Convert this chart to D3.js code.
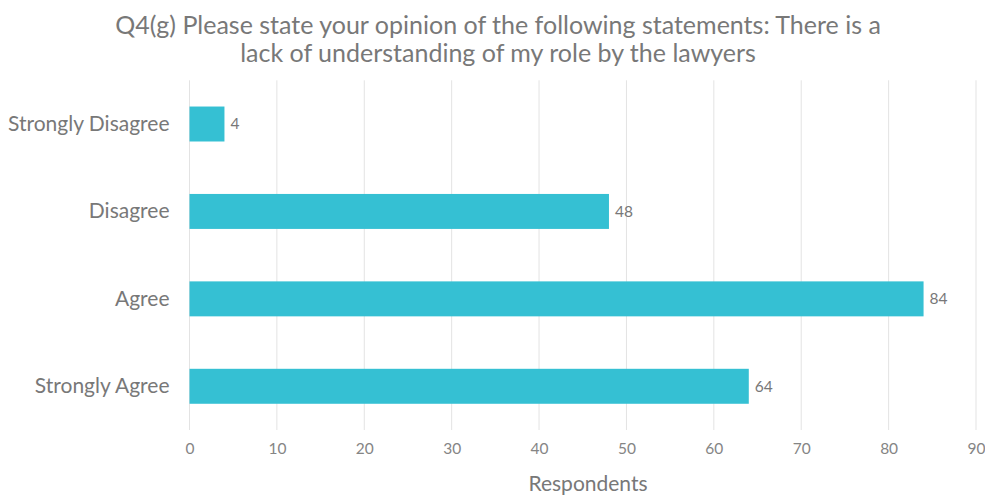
<!DOCTYPE html>
<html>
<head>
<meta charset="utf-8">
<script src="https://cdn.jsdelivr.net/npm/d3@7"></script>
<style>
  html, body { margin: 0; padding: 0; background: #fff; }
  svg { display: block; font-family: Lato, "Open Sans", sans-serif; }
</style>
</head>
<body>
<svg id="chart" width="985" height="496"></svg>
<script>
// Survey responses
const categories = ["Strongly Disagree", "Disagree", "Agree", "Strongly Agree"];
const respondents = [4, 48, 84, 64];
const xTicks = [0, 10, 20, 30, 40, 50, 60, 70, 80, 90];
const titleLines = [
  "Q4(g) Please state your opinion of the following statements: There is a",
  "lack of understanding of my role by the lawyers"
];
const xAxisTitle = "Respondents";

const svg = d3.select("#chart");
const margin = { left: 189.5, right: 9, top: 80.3, bottom: 66 };
const W = 985, H = 496;
const textGray = "#787878";

const x = d3.scaleLinear().domain([0, 90]).range([margin.left, W - margin.right]);
const y = d3.scaleBand().domain(categories).range([margin.top, H - margin.bottom])
  .paddingInner(0.6).paddingOuter(0.3);

// Title
svg.append("g").selectAll("text").data(titleLines).join("text")
  .attr("x", 498).attr("y", (d, i) => 34 + i * 28)
  .attr("text-anchor", "middle")
  .attr("font-size", 25)
  .attr("fill", textGray)
  .text(d => d);

// Vertical gridlines
svg.append("g").selectAll("line").data(xTicks).join("line")
  .attr("x1", d => x(d)).attr("x2", d => x(d))
  .attr("y1", margin.top).attr("y2", H - margin.bottom)
  .attr("stroke", "#e3e3e3").attr("stroke-width", 1);

// Bottom axis (labels only)
const xAxis = d3.axisBottom(x).tickValues(xTicks).tickSize(0).tickPadding(13);
const gx = svg.append("g").attr("transform", `translate(0,${H - margin.bottom})`).call(xAxis);
gx.select(".domain").remove();
gx.selectAll("text").attr("font-size", 15.5).attr("fill", "#858585")
  .attr("font-family", "Lato, sans-serif");

// Left axis (category labels only)
const yAxis = d3.axisLeft(y).tickSize(0).tickPadding(20);
const gy = svg.append("g").attr("transform", `translate(${margin.left},0)`).call(yAxis);
gy.select(".domain").remove();
gy.selectAll("text").attr("font-size", 21).attr("fill", textGray)
  .attr("font-family", "Lato, sans-serif");

// Bars
svg.append("g").selectAll("rect").data(categories).join("rect")
  .attr("x", x(0))
  .attr("y", d => y(d))
  .attr("width", (d, i) => x(respondents[i]) - x(0))
  .attr("height", y.bandwidth())
  .attr("fill", "#35c0d3");

// Value labels
svg.append("g").selectAll("text").data(categories).join("text")
  .attr("x", (d, i) => x(respondents[i]) + 6)
  .attr("y", d => y(d) + y.bandwidth() / 2)
  .attr("dy", "0.35em")
  .attr("font-size", 15.5)
  .attr("fill", textGray)
  .text((d, i) => respondents[i]);

// Axis title
svg.append("text")
  .attr("x", 588).attr("y", 491)
  .attr("text-anchor", "middle")
  .attr("font-size", 21)
  .attr("fill", textGray)
  .text(xAxisTitle);
</script>
</body>
</html>
